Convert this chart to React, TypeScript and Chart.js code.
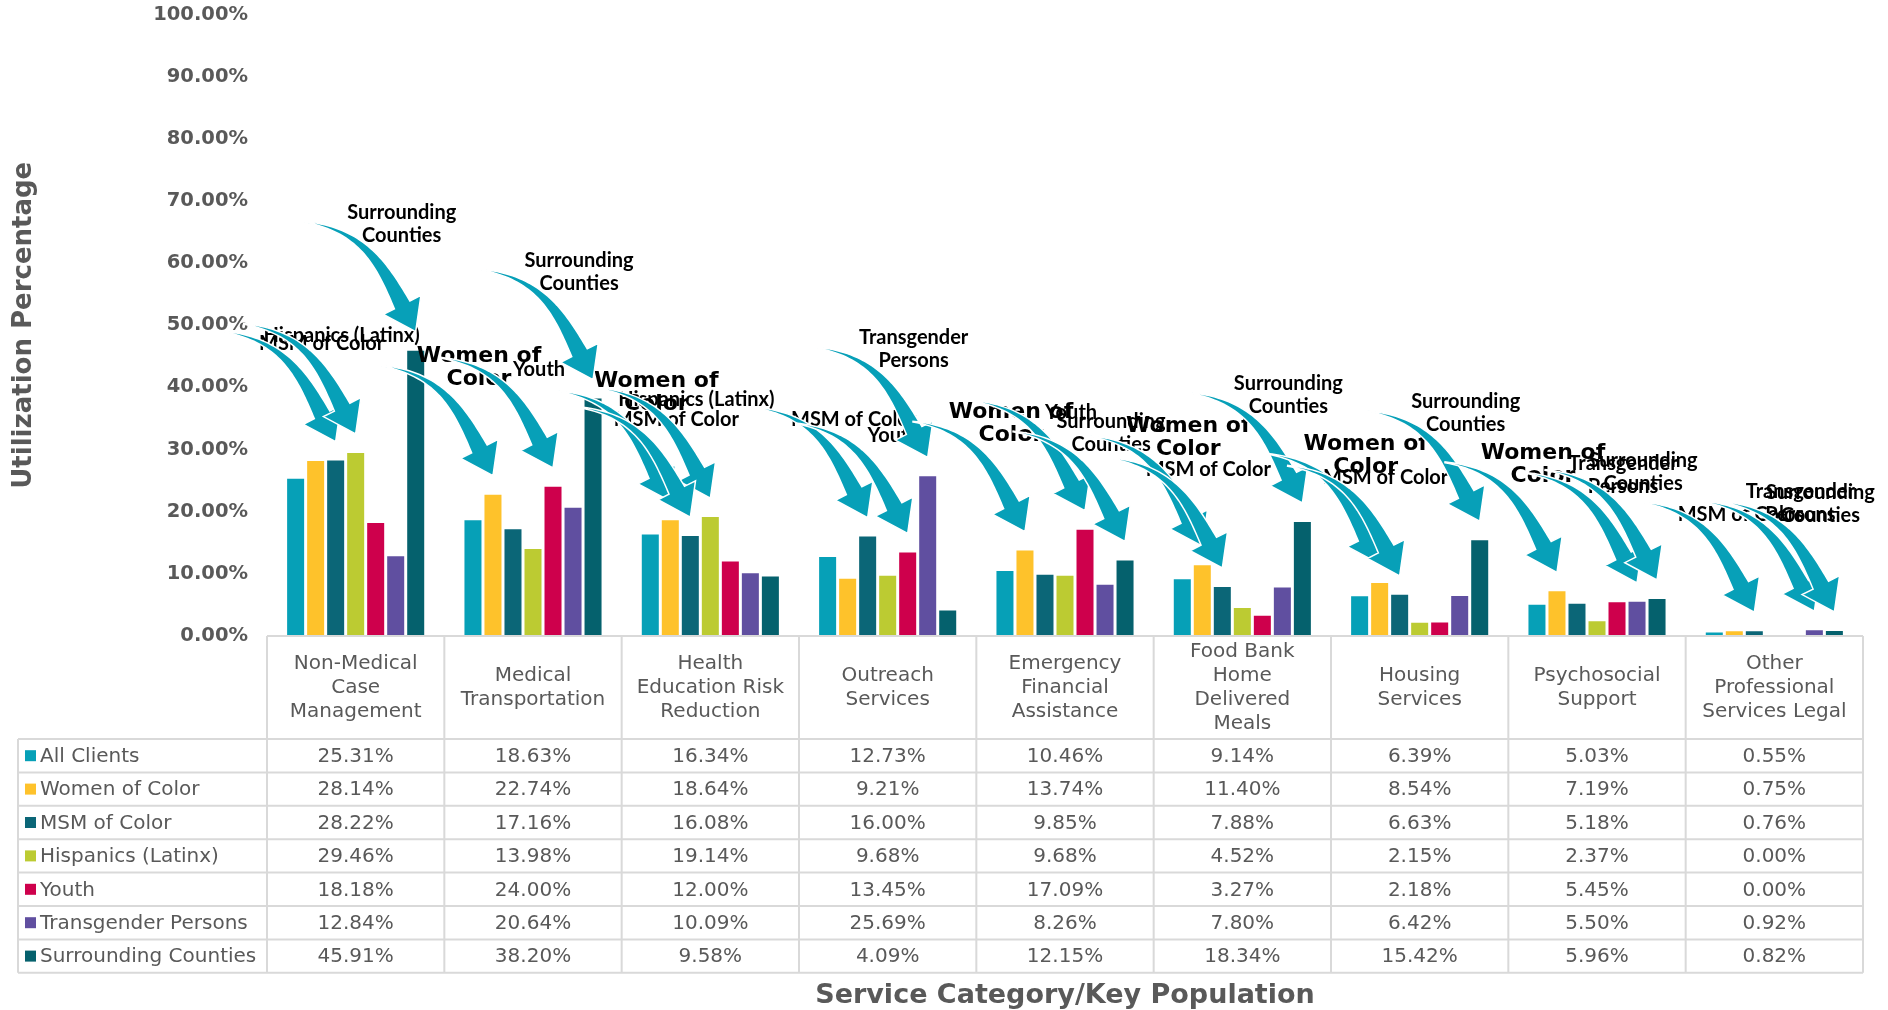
import React, { useEffect, useRef } from 'react';
import { Chart, registerables } from 'chart.js';

Chart.register(...registerables);

// ---------- data ----------
const categories: string[][] = [
  ['Non-Medical', 'Case', 'Management'],
  ['Medical', 'Transportation'],
  ['Health', 'Education Risk', 'Reduction'],
  ['Outreach', 'Services'],
  ['Emergency', 'Financial', 'Assistance'],
  ['Food Bank', 'Home', 'Delivered', 'Meals'],
  ['Housing', 'Services'],
  ['Psychosocial', 'Support'],
  ['Other', 'Professional', 'Services Legal'],
];

const seriesNames = [
  'All Clients',
  'Women of Color',
  'MSM of Color',
  'Hispanics (Latinx)',
  'Youth',
  'Transgender Persons',
  'Surrounding Counties',
];

const allClients = [25.31, 18.63, 16.34, 12.73, 10.46, 9.14, 6.39, 5.03, 0.55];
const womenOfColor = [28.14, 22.74, 18.64, 9.21, 13.74, 11.4, 8.54, 7.19, 0.75];
const msmOfColor = [28.22, 17.16, 16.08, 16.0, 9.85, 7.88, 6.63, 5.18, 0.76];
const hispanicsLatinx = [29.46, 13.98, 19.14, 9.68, 9.68, 4.52, 2.15, 2.37, 0.0];
const youth = [18.18, 24.0, 12.0, 13.45, 17.09, 3.27, 2.18, 5.45, 0.0];
const transgenderPersons = [12.84, 20.64, 10.09, 25.69, 8.26, 7.8, 6.42, 5.5, 0.92];
const surroundingCounties = [45.91, 38.2, 9.58, 4.09, 12.15, 18.34, 15.42, 5.96, 0.82];

const seriesValues = [
  allClients,
  womenOfColor,
  msmOfColor,
  hispanicsLatinx,
  youth,
  transgenderPersons,
  surroundingCounties,
];

const seriesColors = ['#06A0B7', '#FEC22B', '#0B6677', '#BCCB32', '#CE004C', '#604FA0', '#05616D'];

const yTickValues = [0, 10, 20, 30, 40, 50, 60, 70, 80, 90, 100];

// callouts: category index, series index
const calloutCats = [0, 0, 0, 1, 1, 1, 2, 2, 2, 3, 3, 3, 4, 4, 4, 5, 5, 5, 6, 6, 6, 7, 7, 7, 8, 8, 8];
const calloutSeries = [6, 2, 3, 1, 4, 6, 1, 3, 2, 5, 2, 4, 1, 4, 6, 1, 2, 6, 1, 2, 6, 1, 5, 6, 2, 5, 6];

const calloutText = (s: number): string[] => {
  if (s === 1) return ['Women of', 'Color'];
  if (s === 2) return ['MSM of Color'];
  if (s === 3) return ['Hispanics (Latinx)'];
  if (s === 4) return ['Youth'];
  if (s === 5) return ['Transgender', 'Persons'];
  return ['Surrounding', 'Counties'];
};

// ---------- drawing helpers ----------
const GRAY = '#595959';
const GRID = '#D9D9D9';
const ARROW = '#07A0B8';

type P = { x: number; y: number };

function bez(p0: P, p1: P, p2: P, p3: P, t: number): P {
  const u = 1 - t;
  return {
    x: u * u * u * p0.x + 3 * u * u * t * p1.x + 3 * u * t * t * p2.x + t * t * t * p3.x,
    y: u * u * u * p0.y + 3 * u * u * t * p1.y + 3 * u * t * t * p2.y + t * t * t * p3.y,
  };
}
function bezD(p0: P, p1: P, p2: P, p3: P, t: number): P {
  const u = 1 - t;
  return {
    x: 3 * u * u * (p1.x - p0.x) + 6 * u * t * (p2.x - p1.x) + 3 * t * t * (p3.x - p2.x),
    y: 3 * u * u * (p1.y - p0.y) + 6 * u * t * (p2.y - p1.y) + 3 * t * t * (p3.y - p2.y),
  };
}

function drawArrow(ctx: CanvasRenderingContext2D, tip: P) {
  const tail = { x: tip.x - 112, y: tip.y - 110 };
  const dl = Math.hypot(0.45, 0.89);
  const dir = { x: 0.45 / dl, y: 0.89 / dl };
  const headLen = 30;
  const headHalf = 21;
  const base = { x: tip.x - dir.x * headLen, y: tip.y - dir.y * headLen };
  const p0 = tail;
  const p3 = base;
  const p1 = { x: p0.x + (p3.x - p0.x) * 0.6, y: p0.y + (p3.y - p0.y) * 0.1 };
  const p2 = { x: p3.x - dir.x * 45, y: p3.y - dir.y * 45 };
  const N = 40;
  const left: P[] = [];
  const right: P[] = [];
  for (let i = 0; i <= N; i++) {
    const t = i / N;
    const p = bez(p0, p1, p2, p3, t);
    const d = bezD(p0, p1, p2, p3, t);
    const l = Math.hypot(d.x, d.y) || 1;
    const n = { x: -d.y / l, y: d.x / l };
    const w = 0.4 + 8.3 * Math.pow(t, 1.1);
    left.push({ x: p.x + n.x * w, y: p.y + n.y * w });
    right.push({ x: p.x - n.x * w, y: p.y - n.y * w });
  }
  const nb = { x: -dir.y, y: dir.x };
  ctx.beginPath();
  ctx.moveTo(left[0].x, left[0].y);
  for (const p of left) ctx.lineTo(p.x, p.y);
  ctx.lineTo(base.x + nb.x * headHalf, base.y + nb.y * headHalf);
  ctx.lineTo(tip.x, tip.y);
  ctx.lineTo(base.x - nb.x * headHalf, base.y - nb.y * headHalf);
  for (let i = right.length - 1; i >= 0; i--) ctx.lineTo(right[i].x, right[i].y);
  ctx.closePath();
  ctx.fillStyle = ARROW;
  ctx.fill();
  ctx.lineWidth = 1.5;
  ctx.strokeStyle = '#FFFFFF';
  ctx.stroke();
}

const calloutPlugin = {
  id: 'callouts',
  afterDatasetsDraw(chart: any) {
    const ctx: CanvasRenderingContext2D = chart.ctx;
    const tips: P[] = [];
    for (let k = 0; k < calloutCats.length; k++) {
      const el = chart.getDatasetMeta(calloutSeries[k]).data[calloutCats[k]];
      tips.push({ x: el.x, y: el.y - 19 });
    }
    ctx.save();
    ctx.textAlign = 'center';
    ctx.textBaseline = 'middle';
    ctx.fillStyle = '#000000';
    for (let k = 0; k < calloutCats.length; k++) {
      const lines = calloutText(calloutSeries[k]);
      const bold = calloutSeries[k] === 1;
      ctx.font = bold ? 'bold 22px "DejaVu Sans"' : 'bold 20px Lato';
      const lh = 23;
      const cx = tips[k].x - 14;
      const cy = tips[k].y - (lines.length > 1 ? 108 : 98);
      lines.forEach((ln, i) => {
        ctx.fillText(ln, cx, cy + (i - (lines.length - 1) / 2) * lh);
      });
    }
    for (let k = 0; k < calloutCats.length; k++) drawArrow(ctx, tips[k]);
    ctx.restore();
  },
};

const tablePlugin = {
  id: 'dataTable',
  afterDraw(chart: any) {
    const ctx: CanvasRenderingContext2D = chart.ctx;
    const area = chart.chartArea;
    const xs = chart.scales.x;
    const n = categories.length;
    const colW = (area.right - area.left) / n;
    const headTop = area.bottom;
    const headBottom = headTop + 103;
    const rowH = 33.4;
    const tableLeft = 18;
    const tableBottom = headBottom + rowH * seriesNames.length;
    ctx.save();
    ctx.strokeStyle = GRID;
    ctx.lineWidth = 2;
    ctx.beginPath();
    ctx.moveTo(area.left, headTop);
    ctx.lineTo(area.right, headTop);
    for (let r = 0; r <= seriesNames.length; r++) {
      const y = headBottom + r * rowH;
      ctx.moveTo(tableLeft, y);
      ctx.lineTo(area.right, y);
    }
    for (let c = 0; c <= n; c++) {
      const x = c < n ? xs.getPixelForValue(c) - colW / 2 : xs.getPixelForValue(n - 1) + colW / 2;
      ctx.moveTo(x, headTop);
      ctx.lineTo(x, tableBottom);
    }
    ctx.moveTo(tableLeft, headBottom);
    ctx.lineTo(tableLeft, tableBottom);
    ctx.stroke();

    ctx.fillStyle = GRAY;
    ctx.font = '20px "DejaVu Sans"';
    ctx.textAlign = 'center';
    ctx.textBaseline = 'middle';
    const headMid = (headTop + headBottom) / 2;
    categories.forEach((lines, c) => {
      const cx = xs.getPixelForValue(c);
      lines.forEach((ln, i) => {
        ctx.fillText(ln, cx, headMid + (i - (lines.length - 1) / 2) * 24);
      });
    });
    seriesValues.forEach((vals, s) => {
      const cy = headBottom + rowH * (s + 0.5);
      vals.forEach((v, c) => {
        ctx.fillText(v.toFixed(2) + '%', xs.getPixelForValue(c), cy + 1);
      });
      ctx.fillStyle = seriesColors[s];
      ctx.fillRect(25, cy - 5.5, 11, 11);
      ctx.fillStyle = GRAY;
      ctx.textAlign = 'left';
      ctx.fillText(seriesNames[s], 40, cy + 1);
      ctx.textAlign = 'center';
    });

    ctx.font = 'bold 27px "DejaVu Sans"';
    ctx.fillStyle = GRAY;
    ctx.fillText('Service Category/Key Population', (area.left + area.right) / 2, 996);
    ctx.translate(24, (area.top + area.bottom) / 2);
    ctx.rotate(-Math.PI / 2);
    ctx.font = 'bold 26px "DejaVu Sans"';
    ctx.fillText('Utilization Percentage', 0, 0);
    ctx.restore();
  },
};

export default function App() {
  const canvasRef = useRef<HTMLCanvasElement | null>(null);

  useEffect(() => {
    const canvas = canvasRef.current;
    if (!canvas) return;
    const chart = new Chart(canvas, {
      type: 'bar',
      data: {
        labels: categories.map((c) => c.join(' ')),
        datasets: seriesNames.map((name, s) => ({
          label: name,
          data: seriesValues[s],
          backgroundColor: seriesColors[s],
          borderWidth: 0,
          categoryPercentage: 0.79,
          barPercentage: 0.85,
        })),
      },
      options: {
        responsive: false,
        animation: false,
        devicePixelRatio: 1,
        layout: { padding: { top: 14.5, right: 25, bottom: 0, left: 0 } },
        plugins: {
          legend: { display: false },
          tooltip: { enabled: false },
          title: { display: false },
        },
        scales: {
          x: {
            grid: { display: false },
            border: { display: false },
            ticks: { display: false },
            afterFit: (scale: any) => {
              scale.height = 374;
            },
          },
          y: {
            min: 0,
            max: 100,
            afterBuildTicks: (scale: any) => {
              scale.ticks = yTickValues.map((v) => ({ value: v }));
            },
            grid: { display: false },
            border: { display: false },
            ticks: {
              padding: 11,
              color: GRAY,
              font: { family: 'DejaVu Sans', size: 19.5, weight: 'bold' },
              callback: (v: any) => Number(v).toFixed(2) + '%',
            },
            afterFit: (scale: any) => {
              scale.width = 267;
              scale.paddingTop = 0;
              scale.paddingBottom = 0;
            },
          },
        },
      } as any,
      plugins: [calloutPlugin, tablePlugin],
    });
    return () => chart.destroy();
  }, []);

  return (
    <div style={{ position: 'absolute', left: 0, top: 0, width: 1888, height: 1010, background: '#FFFFFF' }}>
      <canvas ref={canvasRef} width={1888} height={1010} style={{ display: 'block' }} />
    </div>
  );
}
